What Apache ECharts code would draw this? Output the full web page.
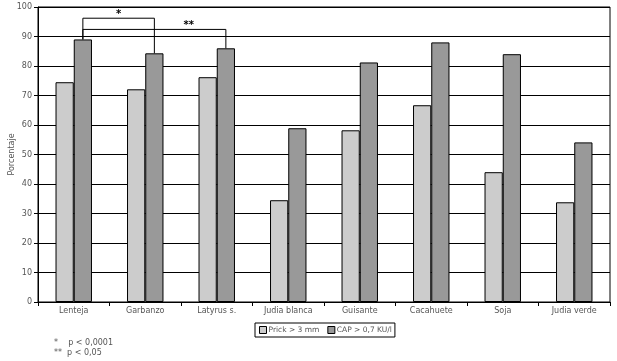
<!DOCTYPE html>
<html><head><meta charset="utf-8">
<script src="https://cdn.jsdelivr.net/npm/echarts@6/dist/echarts.min.js"></script>
<style>html,body{margin:0;padding:0;background:#fff}#c{width:617px;height:361px}</style>
</head><body><div id="c"></div>
<script>
const categories = ['Lenteja','Garbanzo','Latyrus s.','Judia blanca','Guisante','Cacahuete','Soja','Judia verde'];
const prickValues = [74.5, 72.1, 76.2, 34.5, 58.2, 66.7, 44.0, 33.8];
const capValues = [89.0, 84.3, 86.0, 58.9, 81.2, 88.0, 84.0, 54.1];
const yTicks = {min: 0, max: 100, interval: 10};
// brackets: [fromIndex, toIndex, level, label]
const brackets = [[0, 1, 96.2, '*'], [0, 2, 92.4, '**']];
const footnotes = ['*    p < 0,0001', '**  p < 0,05'];
const seriesNames = ['Prick > 3 mm', 'CAP > 0,7 KU/l'];

const chart = echarts.init(document.getElementById('c'));
const font = 'DejaVu Sans';
const labelFrac = [0.5, 0.74];
chart.setOption({
  animation: false,
  grid: {left: 38, right: 7, top: 7, bottom: 59, show: true, borderColor: '#000', borderWidth: 1, outerBoundsMode: 'none', containLabel: false},
  xAxis: {type: 'category', data: categories,
    axisLine: {lineStyle: {color: '#000'}},
    axisTick: {show: true, length: 4, lineStyle: {color: '#000'}},
    axisLabel: {color: '#555', fontFamily: font, fontSize: 8, margin: 5}},
  yAxis: {type: 'value', min: yTicks.min, max: yTicks.max, interval: yTicks.interval,
    name: 'Porcentaje', nameLocation: 'middle', nameGap: 22, nameRotate: 90, nameMoveOverlap: false,
    nameTextStyle: {color: '#555', fontFamily: font, fontSize: 8},
    axisLine: {show: true, lineStyle: {color: '#000'}},
    axisTick: {show: true, length: 4, lineStyle: {color: '#000'}},
    splitLine: {lineStyle: {color: '#000', width: 1}},
    axisLabel: {color: '#555', fontFamily: font, fontSize: 8, margin: 6}},
  legend: {left: 255, top: 323, itemWidth: 7, itemHeight: 7, itemGap: 8, icon: 'rect',
    borderColor: '#000', borderWidth: 1, padding: [3, 3, 3, 4],
    itemStyle: {borderColor: '#000', borderWidth: 1},
    textStyle: {color: '#555', fontFamily: font, fontSize: 7.5, padding: [0,0,0,-3]},
    data: seriesNames},
  series: [
    {name: seriesNames[0], type: 'bar', data: prickValues, barGap: '0%', barCategoryGap: '49%',
      itemStyle: {color: '#cccccc', borderColor: '#000', borderWidth: 1}},
    {name: seriesNames[1], type: 'bar', data: capValues,
      itemStyle: {color: '#999999', borderColor: '#000', borderWidth: 1}},
    {type: 'custom', silent: true, z: 5,
      data: brackets.map(b => [b[0], b[1], b[2]]),
      encode: {x: 0, y: 2},
      renderItem: function (params, api) {
        const f = api.value(0), t = api.value(1), lvl = api.value(2);
        const band = api.size([1, 0])[0];
        const off = band * 0.1275;
        const x1 = api.coord([f, 0])[0] + off;
        const x2 = api.coord([t, 0])[0] + off;
        const y = api.coord([f, lvl])[1];
        const y1 = api.coord([f, capValues[f]])[1];
        const y2 = api.coord([t, capValues[t]])[1];
        const label = brackets[params.dataIndex][3];
        const lx = x1 + (x2 - x1) * labelFrac[params.dataIndex];
        return {type: 'group', children: [
          {type: 'polyline', shape: {points: [[x1, y1], [x1, y], [x2, y], [x2, y2]]},
            style: {stroke: '#000', lineWidth: 1, fill: null}},
          {type: 'text', style: {text: label, x: lx, y: y + 1,
            align: 'center', verticalAlign: 'bottom', fill: '#000', font: 'bold 10px ' + font}}
        ]};
      }}
  ],
  graphic: footnotes.map((t, i) => ({type: 'text', left: 54, top: 339 + i * 10,
    style: {text: t, fill: '#555', font: '8px ' + font}}))
});
</script></body></html>
